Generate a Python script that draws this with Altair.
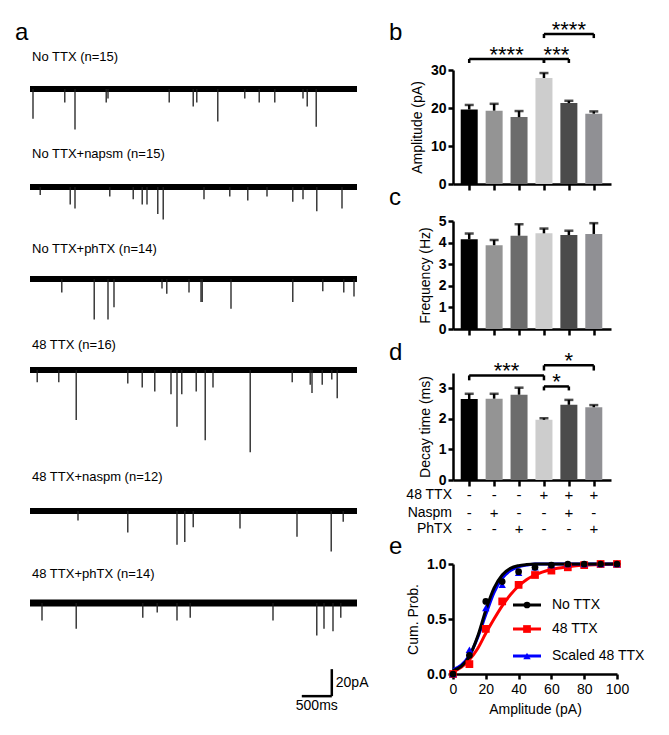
import altair as alt
import pandas as pd

FONT = "Liberation Sans"

# ---------------- panel a : example traces (time in s, event amplitude in pA) ----------------
trace_labels = ["No TTX (n=15)", "No TTX+napsm (n=15)", "No TTX+phTX (n=14)",
                "48 TTX (n=16)", "48 TTX+naspm (n=12)", "48 TTX+phTX (n=14)"]
trace_duration_s = 5.45
ev_t_1 = [0.05, 0.58, 0.75, 1.27, 1.30, 2.32, 2.72, 2.78, 3.13, 3.58, 3.82, 4.08, 4.55, 4.62, 4.77]
ev_a_1 = [22, 10, 30, 10, 7, 10, 13, 10, 24, 7, 10, 10, 7, 13, 28]
ev_t_2 = [0.17, 0.67, 0.75, 1.33, 1.72, 1.87, 1.95, 2.13, 2.22, 2.90, 3.33, 3.63, 3.95, 4.38, 4.55, 4.78, 5.20]
ev_a_2 = [6, 13, 16, 7, 9, 13, 13, 20, 24, 9, 7, 10, 7, 11, 9, 18, 16]
ev_t_3 = [0.53, 1.07, 1.30, 1.40, 2.20, 2.28, 2.65, 2.85, 2.87, 3.35, 4.38, 4.88, 5.23, 5.40]
ev_a_3 = [10, 30, 30, 21, 7, 11, 10, 17, 17, 22, 17, 9, 10, 13]
ev_t_4 = [0.12, 0.48, 0.77, 1.63, 1.87, 2.08, 2.35, 2.45, 2.53, 2.77, 2.92, 3.05, 3.67, 4.37, 4.67, 4.70, 4.87, 5.03, 5.12]
ev_a_4 = [9, 9, 37, 10, 13, 16, 18, 42, 18, 16, 52, 13, 61, 9, 11, 17, 11, 7, 21]
ev_t_5 = [0.80, 1.63, 2.45, 2.58, 2.72, 3.50, 4.45, 5.02, 5.22]
ev_a_5 = [7, 16, 25, 23, 12, 13, 19, 30, 8]
ev_t_6 = [0.20, 0.77, 1.88, 2.12, 2.45, 2.67, 4.05, 4.78, 4.90, 5.05, 5.18]
ev_a_6 = [13, 19, 11, 7, 13, 11, 13, 24, 19, 21, 11]
ev_t = [ev_t_1, ev_t_2, ev_t_3, ev_t_4, ev_t_5, ev_t_6]
ev_a = [ev_a_1, ev_a_2, ev_a_3, ev_a_4, ev_a_5, ev_a_6]

scalebar_t0 = 4.53      # s
scalebar_len_s = 0.5    # 500 ms
scalebar_y0 = -69       # pA (below last trace baseline)
scalebar_pA = 20

# ---------------- panels b-d : bar graphs ----------------
conds = ["No TTX", "No TTX+Naspm", "No TTX+PhTX", "48 TTX", "48 TTX+Naspm", "48 TTX+PhTX"]
cond_pos = [1, 2, 3, 4, 5, 6]
bar_colors = ["#000000", "#949494", "#6c6c6c", "#cdcdcd", "#4b4b4b", "#909094"]

amp_mean = [19.6, 19.3, 17.6, 27.9, 21.3, 18.5]
amp_sem = [1.2, 1.8, 1.6, 1.3, 0.6, 0.6]
freq_mean = [4.15, 3.88, 4.32, 4.43, 4.35, 4.40]
freq_sem = [0.27, 0.24, 0.53, 0.22, 0.20, 0.50]
decay_mean = [2.65, 2.66, 2.79, 1.97, 2.46, 2.38]
decay_sem = [0.17, 0.16, 0.23, 0.05, 0.16, 0.07]

amp_br_from = [1, 4, 4]
amp_br_to = [4, 5, 6]
amp_br_level = [32.9, 32.9, 39.5]
amp_br_drop = [1.05, 1.05, 1.1]
amp_br_label = ["****", "***", "****"]

dec_br_from = [1, 4, 4]
dec_br_to = [4, 5, 6]
dec_br_level = [3.42, 3.06, 3.75]
dec_br_drop = [0.16, 0.13, 0.17]
dec_br_label = ["***", "*", "*"]

table_rows = ["48 TTX", "Naspm", "PhTX"]
sign_ttx = ["-", "-", "-", "+", "+", "+"]
sign_naspm = ["-", "+", "-", "-", "+", "-"]
sign_phtx = ["-", "-", "+", "-", "-", "+"]

# ---------------- panel e : cumulative probability ----------------
series_names = ["No TTX", "48 TTX", "Scaled 48 TTX"]
series_colors = ["#000000", "#ff0000", "#0000ff"]
amp_bins = [0, 10, 20, 30, 40, 50, 60, 70, 80, 90, 100]
cum_no = [0.0, 0.17, 0.66, 0.84, 0.93, 0.97, 0.99, 1.0, 1.0, 1.0, 1.0]
cum_48 = [0.0, 0.09, 0.41, 0.66, 0.81, 0.90, 0.94, 0.97, 0.99, 1.0, 1.0]
cum_sc = [0.0, 0.22, 0.60, 0.81, 0.92, 0.97, 0.99, 1.0, 1.0, 1.0, 1.0]
fit_x = [0, 5, 10, 15, 20, 25, 30, 35, 40, 45, 50, 60, 70, 80, 90, 100]
fit_no = [0.03, 0.07, 0.16, 0.34, 0.58, 0.78, 0.90, 0.96, 0.985, 0.995, 1.0, 1.0, 1.0, 1.0, 1.0, 1.0]
fit_sc = [0.04, 0.08, 0.17, 0.33, 0.54, 0.74, 0.87, 0.94, 0.975, 0.99, 1.0, 1.0, 1.0, 1.0, 1.0, 1.0]
fit_48 = [0.02, 0.06, 0.13, 0.23, 0.37, 0.50, 0.62, 0.72, 0.80, 0.86, 0.90, 0.95, 0.975, 0.99, 0.995, 1.0]

# =====================================================================
# layout constants (pixels)
PX_PER_PA = 1.35
XS = alt.Scale(domain=[-0.25, 5.5], nice=False, zero=False)
TRACE_W = 345
row_top = [68, 144, 239, 335, 467, 564, 715]     # panel boundaries on the page
row_base = [87, 185, 277, 368, 509, 601]          # trace baselines on the page
row_label = [55, 152, 247, 343, 475, 572]         # label centres on the page
letter_a_baseline = 38
noise_w = [6, 6, 6, 6, 6, 7]


def one(v):
    return pd.DataFrame({"v": [v]})


def trace_chart(i, scalebar=False):
    h = row_top[i + 1] - row_top[i]
    ymax = (row_base[i] - row_top[i]) / PX_PER_PA
    ymin = -(row_top[i + 1] - row_base[i]) / PX_PER_PA
    ys = alt.Scale(domain=[ymin, ymax], nice=False, zero=False)
    base_df = pd.DataFrame({"t0": [0.0], "t1": [trace_duration_s], "y": [0.0]})
    base = alt.Chart(base_df).mark_rule(color="black", strokeWidth=noise_w[i]).encode(
        x=alt.X("t0:Q", scale=XS, axis=None), x2="t1:Q", y=alt.Y("y:Q", scale=ys, axis=None))
    ev = pd.DataFrame({"t": ev_t[i], "amp": [-a for a in ev_a[i]], "zero": [0.0] * len(ev_t[i])})
    spikes = alt.Chart(ev).mark_rule(color="#1c1c1c", strokeWidth=1.3).encode(
        x=alt.X("t:Q", scale=XS, axis=None), y=alt.Y("zero:Q", scale=ys, axis=None), y2="amp:Q")
    label = alt.Chart(one(trace_labels[i])).mark_text(
        align="left", baseline="middle", fontSize=13, font=FONT, color="black").encode(
        x=alt.value(17), y=alt.value(row_label[i] - row_top[i]), text="v:N")
    layers = [base, spikes, label]
    if i == 0:
        layers.append(alt.Chart(one("a")).mark_text(
            align="left", baseline="alphabetic", fontSize=24, font=FONT, color="black").encode(
            x=alt.value(0), y=alt.value(letter_a_baseline - row_top[0]), text="v:N"))
    if scalebar:
        sb = pd.DataFrame({"t0": [scalebar_t0], "t1": [scalebar_t0 + scalebar_len_s],
                           "tm": [scalebar_t0 + scalebar_len_s / 2],
                           "y0": [scalebar_y0], "y1": [scalebar_y0 + scalebar_pA],
                           "ym": [scalebar_y0 + scalebar_pA / 2]})
        hbar = alt.Chart(sb).mark_rule(color="black", strokeWidth=2.5).encode(
            x=alt.X("t0:Q", scale=XS, axis=None), x2="t1:Q", y=alt.Y("y0:Q", scale=ys, axis=None))
        vbar = alt.Chart(sb).mark_rule(color="black", strokeWidth=2.5).encode(
            x=alt.X("t1:Q", scale=XS, axis=None), y=alt.Y("y0:Q", scale=ys, axis=None), y2="y1:Q")
        t_pa = alt.Chart(sb).mark_text(align="left", baseline="middle", dx=4, fontSize=14, font=FONT).encode(
            x=alt.X("t1:Q", scale=XS, axis=None), y=alt.Y("ym:Q", scale=ys, axis=None),
            text=alt.value(f"{scalebar_pA}pA"))
        t_ms = alt.Chart(sb).mark_text(align="center", baseline="top", dy=3, fontSize=14, font=FONT).encode(
            x=alt.X("tm:Q", scale=XS, axis=None), y=alt.Y("y0:Q", scale=ys, axis=None),
            text=alt.value(f"{int(scalebar_len_s * 1000)}ms"))
        layers += [hbar, vbar, t_pa, t_ms]
    return alt.layer(*layers).properties(width=TRACE_W, height=h)


traces = [trace_chart(i, scalebar=(i == 5)) for i in range(6)]
left = alt.vconcat(*traces, spacing=0)

# ---------------- bar panels ----------------
XB = alt.Scale(domain=[0.55, 6.49], nice=False, zero=False)
BAR_W = 158
LETTER_X = -64
x_axis_bar = alt.Axis(values=cond_pos, labels=False, title=None, grid=False, domainWidth=2.5,
                      tickWidth=2.5, tickSize=6, domainColor="black", tickColor="black")


def y_axis(title, vals, fmt=None):
    kw = dict(values=vals, title=title, grid=False, domainWidth=2.5, tickWidth=2.5, tickSize=5,
              labelFontSize=14, labelFontWeight="bold", titleFontSize=14,
              titleFontWeight="normal", labelPadding=2, titlePadding=6, domainColor="black",
              tickColor="black", labelColor="black", titleColor="black")
    if fmt:
        kw["format"] = fmt
    return alt.Axis(**kw)


def letter(ch, y):
    return alt.Chart(one(ch)).mark_text(
        align="left", baseline="alphabetic", fontSize=24, font=FONT, color="black").encode(
        x=alt.value(LETTER_X), y=alt.value(y), text="v:N")


def bar_panel(mean, sem, ymax, yvals, ytitle, let, let_y, h, br=None, table=False):
    df = pd.DataFrame({"cond": conds, "pos": cond_pos, "mean": mean,
                       "upper": [m + s for m, s in zip(mean, sem)]})
    ys = alt.Scale(domain=[0, ymax], nice=False, zero=True)
    ya = y_axis(ytitle, yvals)
    bars = alt.Chart(df).mark_bar(size=17).encode(
        x=alt.X("pos:Q", scale=XB, axis=x_axis_bar),
        y=alt.Y("mean:Q", scale=ys, axis=ya),
        color=alt.Color("cond:N", scale=alt.Scale(domain=conds, range=bar_colors), legend=None))
    stem = alt.Chart(df).mark_rule(color="black", strokeWidth=2.5).encode(
        x=alt.X("pos:Q", scale=XB, axis=x_axis_bar), y=alt.Y("mean:Q", scale=ys, axis=ya), y2="upper:Q")
    cap = alt.Chart(df).mark_tick(color="black", orient="horizontal", size=9, thickness=2.5).encode(
        x=alt.X("pos:Q", scale=XB, axis=x_axis_bar), y=alt.Y("upper:Q", scale=ys, axis=ya))
    layers = [bars, stem, cap, letter(let, let_y)]
    if br is not None:
        bdf = pd.DataFrame({"x1": br[0], "x2": br[1], "lvl": br[2], "drop": br[3], "lab": br[4]})
        base = alt.Chart(bdf).transform_calculate(
            low="datum.lvl - datum.drop", mid="(datum.x1 + datum.x2) / 2")
        hl = base.mark_rule(color="black", strokeWidth=2.5).encode(
            x=alt.X("x1:Q", scale=XB, axis=x_axis_bar), x2="x2:Q", y=alt.Y("lvl:Q", scale=ys, axis=ya))
        e1 = base.mark_rule(color="black", strokeWidth=2.5).encode(
            x=alt.X("x1:Q", scale=XB, axis=x_axis_bar), y=alt.Y("lvl:Q", scale=ys, axis=ya), y2="low:Q")
        e2 = base.mark_rule(color="black", strokeWidth=2.5).encode(
            x=alt.X("x2:Q", scale=XB, axis=x_axis_bar), y=alt.Y("lvl:Q", scale=ys, axis=ya), y2="low:Q")
        tx = base.mark_text(fontSize=22, font=FONT, baseline="alphabetic", dy=3, align="center").encode(
            x=alt.X("mid:Q", scale=XB, axis=x_axis_bar), y=alt.Y("lvl:Q", scale=ys, axis=ya), text="lab:N")
        layers += [hl, e1, e2, tx]
    if table:
        # treatment table under the bars (rows 15, 33, 49 px below the x axis)
        row_dy = [15, 33, 49]
        for rname, signs, dy in zip(table_rows, [sign_ttx, sign_naspm, sign_phtx], row_dy):
            tdf = pd.DataFrame({"pos": cond_pos, "sign": signs})
            layers.append(alt.Chart(tdf).mark_text(fontSize=15, font=FONT, color="black",
                                                   baseline="middle").encode(
                x=alt.X("pos:Q", scale=XB, axis=x_axis_bar), y=alt.value(h + dy), text="sign:N"))
            layers.append(alt.Chart(one(rname)).mark_text(
                fontSize=14, font=FONT, color="black", align="right", baseline="middle").encode(
                x=alt.value(-1), y=alt.value(h + dy), text="v:N"))
    return alt.layer(*layers).properties(width=BAR_W, height=h)


pb = bar_panel(amp_mean, amp_sem, 30, [0, 10, 20, 30], "Amplitude (pA)", "b", -30, 114,
               (amp_br_from, amp_br_to, amp_br_level, amp_br_drop, amp_br_label))
pc = bar_panel(freq_mean, freq_sem, 5, [0, 1, 2, 3, 4, 5], "Frequency (Hz)", "c", -16, 108)
pd_ = bar_panel(decay_mean, decay_sem, 3.5, [0, 1, 2, 3], "Decay time (ms)", "d", -13, 107,
                (dec_br_from, dec_br_to, dec_br_level, dec_br_drop, dec_br_label), table=True)

# ---------------- panel e ----------------
XE = alt.Scale(domain=[0, 100], nice=False)
YE = alt.Scale(domain=[0, 1], nice=False)
xa_e = alt.Axis(values=[0, 20, 40, 60, 80, 100], title="Amplitude (pA)", grid=False, domainWidth=2.5,
                tickWidth=2.5, tickSize=5, labelFontSize=14, titleFontSize=14, titleFontWeight="normal",
                labelPadding=3, titlePadding=6, domainColor="black", tickColor="black", labelColor="black",
                titleColor="black", labelFlush=False)
ya_e = y_axis("Cum. Prob.", [0, 0.5, 1], fmt=".1f")

pts = pd.DataFrame({"series": sum([[n] * len(amp_bins) for n in series_names], []),
                    "amp": amp_bins * 3, "p": cum_no + cum_48 + cum_sc})
fits = pd.DataFrame({"series": sum([[n] * len(fit_x) for n in series_names], []),
                     "amp": fit_x * 3, "p": fit_no + fit_48 + fit_sc})
series_shape = {"No TTX": ("circle", 45), "48 TTX": ("square", 60), "Scaled 48 TTX": ("triangle-up", 55)}
series_color = dict(zip(series_names, series_colors))


def fit_line(name):
    return alt.Chart(fits).transform_filter(alt.datum.series == name).mark_line(
        color=series_color[name], strokeWidth=3, interpolate="monotone").encode(
        x=alt.X("amp:Q", scale=XE, axis=xa_e), y=alt.Y("p:Q", scale=YE, axis=ya_e))


def pt_layer(name):
    shp, sz = series_shape[name]
    return alt.Chart(pts).transform_filter(alt.datum.series == name).mark_point(
        color=series_color[name], fill=series_color[name], filled=True, shape=shp, size=sz, opacity=1).encode(
        x=alt.X("amp:Q", scale=XE, axis=xa_e), y=alt.Y("p:Q", scale=YE, axis=ya_e))


# hand-drawn legend inside panel e (pixel layout within the plot area)
leg_rows_y = [41, 65, 92]
leg_layers = []
for name, ly in zip(series_names, leg_rows_y):
    shp, sz = series_shape[name]
    c = series_color[name]
    leg_layers.append(alt.Chart(one(name)).mark_rule(color=c, strokeWidth=3).encode(
        x=alt.value(60), x2=alt.value(88), y=alt.value(ly)))
    leg_layers.append(alt.Chart(one(name)).mark_point(
        color=c, fill=c, filled=True, shape=shp, size=sz, opacity=1).encode(x=alt.value(74), y=alt.value(ly)))
    leg_layers.append(alt.Chart(one(name)).mark_text(
        align="left", baseline="middle", fontSize=14, font=FONT, color="black").encode(
        x=alt.value(99), y=alt.value(ly), text="v:N"))

pe = alt.layer(
    fit_line("48 TTX"), fit_line("Scaled 48 TTX"), fit_line("No TTX"),
    pt_layer("48 TTX"), pt_layer("Scaled 48 TTX"), pt_layer("No TTX"),
    letter("e", -10), *leg_layers
).properties(width=164, height=110)

right = alt.vconcat(
    alt.vconcat(pb, pc, spacing=-6),
    alt.vconcat(pd_, pe, spacing=-2),
    spacing=4)

chart = alt.hconcat(left, right, spacing=20).properties(
    padding={"left": 7, "top": 10, "right": 0, "bottom": 0}
).configure(font=FONT).configure_view(stroke=None).configure_axis(
    labelFont=FONT, titleFont=FONT, grid=False)

chart.save("out.html", embed_options={"renderer": "svg", "actions": False})
